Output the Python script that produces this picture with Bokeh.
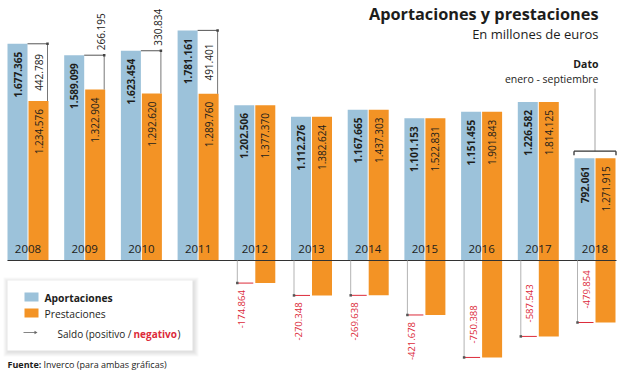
import math
from bokeh.plotting import figure
from bokeh.models import Range1d
from bokeh.core.properties import value
from bokeh.embed import file_html
from bokeh.resources import INLINE

# ---------------- data ----------------
years = ["2008", "2009", "2010", "2011", "2012", "2013", "2014", "2015", "2016", "2017", "2018"]
aportaciones = [1677365, 1589099, 1623454, 1781161, 1202506, 1112276, 1167665, 1101153, 1151455, 1226582, 792061]
prestaciones = [1234576, 1322904, 1292620, 1289760, 1377370, 1382624, 1437303, 1522831, 1901843, 1814125, 1271915]
saldo = [442789, 266195, 330834, 491401, -174864, -270348, -269638, -421678, -750388, -587543, -479854]

title = "Aportaciones y prestaciones"
subtitle = "En millones de euros"
nota_1 = "Dato"
nota_2 = "enero - septiembre"
fuente_b = "Fuente:"
fuente_t = "Inverco (para ambas gráficas)"

# ---------------- layout ----------------
W, H = 620, 375
PX_PER_YEAR = 56.7
X_START = -27.5 / PX_PER_YEAR
UPP = 7740.0                      # value units per pixel
Y_TOP = 260 * UPP
Y_BOT = Y_TOP - H * UPP

def dx(px): return px / PX_PER_YEAR
def dy(px): return px * UPP
def X(px): return X_START + px / PX_PER_YEAR
def Y(py): return Y_TOP - py * UPP

BLUE = "#9cc2da"
ORANGE = "#f39325"
RED = "#dc2b3a"
DARK = "#1d1d1b"
FONT = value("Open Sans")

def fmt(v):
    s = f"{abs(v):,}".replace(",", ".")
    return "-" + s if v < 0 else s

p = figure(width=W, height=H, output_backend="svg", toolbar_location=None,
           x_range=Range1d(X_START, X_START + W / PX_PER_YEAR),
           y_range=Range1d(Y_BOT, Y_TOP), min_border=0)
p.xaxis.visible = False
p.yaxis.visible = False
p.grid.visible = False
p.outline_line_color = None
p.background_fill_color = "white"
p.border_fill_color = "white"

n = len(years)
idx = list(range(n))
OFF = dx(10.5)
BW = dx(20)

bx_blue = [i - OFF for i in idx]
bx_or = [i + OFF for i in idx]
or_bottom = [min(0, s) for s in saldo]
or_top = [b + pr for b, pr in zip(or_bottom, prestaciones)]

p.vbar(x=bx_blue, width=BW, bottom=0, top=aportaciones, fill_color=BLUE, line_color=None)
p.vbar(x=bx_or, width=BW, bottom=or_bottom, top=or_top, fill_color=ORANGE, line_color=None)

# baseline
p.segment(x0=[X(7)], y0=[0], x1=[X(616)], y1=[0], line_color="#333333", line_width=1.2)

# year labels
p.text(x=idx, y=[dy(12)] * n, text=years, text_font=FONT, text_font_size="11.5px",
       text_color=DARK, text_align="center", text_baseline="middle")

# value labels
p.text(x=bx_blue, y=[a - dy(8) for a in aportaciones], text=[fmt(a) for a in aportaciones],
       angle=math.pi / 2, text_font=FONT, text_font_size="10px", text_font_style="bold",
       text_color=DARK, text_align="right", text_baseline="middle")
p.text(x=bx_or, y=[t - dy(8) for t in or_top], text=[fmt(v) for v in prestaciones],
       angle=math.pi / 2, text_font=FONT, text_font_size="10px",
       text_color=DARK, text_align="right", text_baseline="middle")

# saldo brackets
for i in idx:
    s = saldo[i]
    a = aportaciones[i]
    pr = prestaciones[i]
    if s > 0:
        bx = i + OFF + dx(9)
        p.segment(x0=[i - OFF + dx(10)], y0=[a], x1=[bx], y1=[a], line_color="#555555", line_width=1)
        p.segment(x0=[bx], y0=[a], x1=[bx], y1=[pr], line_color="#777777", line_width=1)
        p.scatter(x=[bx], y=[a], marker="square", size=2.5, fill_color="#444444", line_color=None)
        if s / UPP > 50:
            p.text(x=[i + OFF], y=[(a + pr) / 2], text=[fmt(s)], angle=math.pi / 2,
                   text_font=FONT, text_font_size="10px", text_color=DARK,
                   text_align="center", text_baseline="middle")
        else:
            p.text(x=[bx - dx(3)], y=[a + dy(5)], text=[fmt(s)], angle=math.pi / 2,
                   text_font=FONT, text_font_size="10px", text_color=DARK,
                   text_align="left", text_baseline="middle")
    else:
        gx = i - OFF - dx(10) + dx(3)
        p.segment(x0=[gx], y0=[0], x1=[gx], y1=[s], line_color="#b3b3b3", line_width=1)
        p.segment(x0=[gx], y0=[s], x1=[i - dx(1.5)], y1=[s], line_color=RED, line_width=1)
        p.scatter(x=[gx], y=[s], marker="square", size=2.5, fill_color="#555555", line_color=None)
        if abs(s) / UPP < 58:
            p.text(x=[gx + dx(4)], y=[s - dy(7)], text=[fmt(s)], angle=math.pi / 2,
                   text_font=FONT, text_font_size="9.5px", text_color=RED,
                   text_align="right", text_baseline="middle")
        else:
            p.text(x=[gx + dx(9)], y=[s + dy(14)], text=[fmt(s)], angle=math.pi / 2,
                   text_font=FONT, text_font_size="9.5px", text_color=RED,
                   text_align="left", text_baseline="middle")

# "Dato enero - septiembre" marker on the last year
last = n - 1
yb = max(aportaciones[last], or_top[last]) + dy(7)
p.segment(x0=[last], y0=[Y(88)], x1=[last], y1=[yb], line_color="#b3b3b3", line_width=1.2)
p.segment(x0=[last - dx(21)], y0=[yb], x1=[last + dx(21)], y1=[yb], line_color="#333333", line_width=1.3)
p.segment(x0=[last - dx(21), last + dx(21)], y0=[yb, yb], x1=[last - dx(21), last + dx(21)],
          y1=[yb - dy(4), yb - dy(4)], line_color="#333333", line_width=1.3)

# titles
p.text(x=[X(598)], y=[Y(13)], text=[title], text_font=FONT, text_font_size="16.3px",
       text_font_style="bold", text_color=DARK, text_align="right", text_baseline="middle")
p.text(x=[X(598)], y=[Y(33)], text=[subtitle], text_font=FONT, text_font_size="13px",
       text_color=DARK, text_align="right", text_baseline="middle")
p.text(x=[X(598)], y=[Y(63)], text=[nota_1], text_font=FONT, text_font_size="10.5px",
       text_font_style="bold", text_color=DARK, text_align="right", text_baseline="middle")
p.text(x=[X(598)], y=[Y(78)], text=[nota_2], text_font=FONT, text_font_size="10.5px",
       text_color=DARK, text_align="right", text_baseline="middle")

# legend box with soft shadow
for k in range(1, 6):
    p.quad(left=[X(7 - k + 1)], right=[X(192 + k + 1)], top=[Y(280 - k + 2)], bottom=[Y(350 + k + 1)],
           fill_color="black", fill_alpha=0.022, line_color=None)
p.quad(left=[X(7)], right=[X(192)], top=[Y(280)], bottom=[Y(350)], fill_color="white", line_color=None)
p.quad(left=[X(24)], right=[X(38)], top=[Y(292)], bottom=[Y(301)], fill_color=BLUE, line_color=None)
p.quad(left=[X(24)], right=[X(38)], top=[Y(308)], bottom=[Y(317)], fill_color=ORANGE, line_color=None)
p.text(x=[X(44)], y=[Y(297)], text=["Aportaciones"], text_font=FONT, text_font_size="10.3px",
       text_font_style="bold", text_color=DARK, text_align="left", text_baseline="middle")
p.text(x=[X(44)], y=[Y(313)], text=["Prestaciones"], text_font=FONT, text_font_size="10.3px",
       text_color=DARK, text_align="left", text_baseline="middle")
p.segment(x0=[X(23)], y0=[Y(332)], x1=[X(35)], y1=[Y(332)], line_color="#666666", line_width=0.8)
p.scatter(x=[X(35)], y=[Y(332)], marker="triangle", angle=-math.pi / 2, size=3.5,
          fill_color="#666666", line_color=None)
p.text(x=[X(57)], y=[Y(333)], text=["Saldo (positivo /"], text_font=FONT, text_font_size="10px",
       text_color=DARK, text_align="left", text_baseline="middle")
p.text(x=[X(133)], y=[Y(333)], text=["negativo"], text_font=FONT, text_font_size="10px",
       text_font_style="bold", text_color=RED, text_align="left", text_baseline="middle")
p.text(x=[X(177)], y=[Y(333)], text=[")"], text_font=FONT, text_font_size="10px",
       text_color=DARK, text_align="left", text_baseline="middle")

# source
p.text(x=[X(7)], y=[Y(364)], text=[fuente_b], text_font=FONT, text_font_size="9px",
       text_font_style="bold", text_color=DARK, text_align="left", text_baseline="middle")
p.text(x=[X(43)], y=[Y(364)], text=[fuente_t], text_font=FONT, text_font_size="9px",
       text_color=DARK, text_align="left", text_baseline="middle")

open("out.html", "w").write(file_html(p, INLINE))
